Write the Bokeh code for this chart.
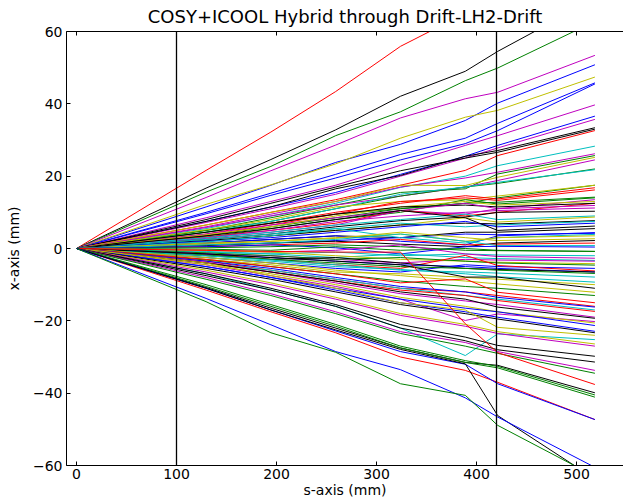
from bokeh.plotting import figure
from bokeh.models import Range1d, LinearAxis, Span, ColumnDataSource, CustomLabelingPolicy
from bokeh.embed import file_html
from bokeh.resources import INLINE

# ---------------- data ----------------
s_nodes = [0.0, 129.6, 194.4, 259.2, 324.0, 388.8, 421.2, 518.4]
region_edges = [100, 420]
s_ticks = [0, 100, 200, 300, 400, 500]
x_ticks = [-60, -40, -20, 0, 20, 40, 60]
x_tick_labels = ["\u221260", "\u221240", "\u221220", "0", "20", "40", "60"]

upper_tracks = [
    [0, 21.6, 32.2, 43.4, 55.9, 65.0, 70.0, 85.0],
    [0, 16.7, 24.6, 32.8, 42.1, 49.0, 54.5, 69.0],
    [0, 15.6, 22.7, 31.2, 37.8, 46.4, 49.9, 62.8],
    [0, 14.1, 21.5, 28.6, 36.1, 41.4, 43.2, 53.4],
    [0, 11.5, 17.5, 23.8, 28.8, 35.4, 40.2, 50.8],
    [0, 12.2, 17.6, 23.4, 30.5, 36.3, 38.2, 47.4],
    [0, 10.0, 15.3, 20.5, 26.0, 30.5, 34.6, 45.8],
    [0, 9.6, 14.7, 19.5, 24.5, 29.0, 32.6, 45.5],
    [0, 8.5, 13.0, 17.5, 23.0, 28.5, 31.2, 39.7],
    [0, 7.5, 11.5, 15.5, 20.5, 25.5, 28.5, 36.6],
    [0, 7.2, 11.0, 15.0, 20.0, 25.0, 27.8, 35.7],
    [0, 7.5, 11.5, 16.5, 20.2, 25.5, 27.1, 33.4],
    [0, 8.0, 12.5, 17.0, 21.5, 25.0, 26.6, 33.0],
    [0, 6.5, 10.0, 13.5, 17.5, 21.6, 25.7, 32.6],
    [0, 5.5, 9.0, 12.5, 16.9, 20.0, 22.9, 28.3],
    [0, 6.0, 9.5, 13.0, 17.0, 19.5, 21.1, 26.2],
    [0, 5.0, 8.5, 12.0, 15.5, 16.5, 20.6, 25.7],
    [0, 6.5, 10.0, 13.0, 17.5, 17.4, 19.7, 25.2],
    [0, 5.8, 9.0, 12.0, 14.5, 17.0, 18.8, 24.5],
    [0, 5.0, 7.5, 11.0, 14.5, 17.0, 18.0, 22.0],
    [0, 4.5, 7.5, 11.0, 15.0, 17.0, 18.3, 21.8],
    [0, 4.5, 7.0, 9.5, 11.0, 12.5, 14.0, 17.5],
    [0, 5.2, 8.0, 11.5, 13.0, 13.5, 14.5, 17.5],
    [0, 4.0, 7.0, 10.0, 12.5, 14.6, 13.7, 16.8],
    [0, 3.5, 6.5, 9.5, 13.0, 14.0, 13.3, 16.2],
    [0, 3.5, 6.0, 8.5, 11.0, 12.5, 12.8, 14.2],
    [0, 3.0, 5.5, 8.0, 10.0, 13.5, 12.3, 14.0],
    [0, 4.0, 6.5, 8.5, 10.5, 9.5, 11.0, 13.5],
    [0, 3.8, 6.0, 9.0, 11.5, 13.0, 12.0, 13.0],
    [0, 3.2, 5.0, 7.0, 10.5, 9.0, 10.0, 12.5],
    [0, 4.5, 7.0, 9.5, 11.5, 12.0, 11.5, 12.5],
    [0, 2.8, 4.5, 6.5, 10.5, 12.5, 11.0, 11.9],
    [0, 3.0, 5.0, 7.5, 9.0, 10.0, 10.5, 11.2],
    [0, 2.5, 4.0, 6.0, 7.7, 8.7, 10.0, 10.3],
]
upper_colors = "rkgmbybbmbmkkrcmgymgcgyrrggmyrkmmk"

middle_tracks = [
    [0, 3.0, 4.5, 6.5, 8.0, 9.5, 8.0, 9.0],
    [0, 2.0, 3.5, 5.0, 6.5, 8.5, 7.3, 8.7],
    [0, 2.2, 3.5, 5.0, 6.5, 7.0, 6.8, 7.7],
    [0, 2.5, 4.0, 5.5, 7.0, 6.0, 6.5, 7.5],
    [0, 2.0, 3.0, 4.5, 6.0, 7.5, 6.0, 7.0],
    [0, 3.5, 5.5, 8.0, 10.5, 8.5, 5.0, 6.2],
    [0, 1.5, 2.5, 3.5, 3.0, 4.5, 4.5, 5.5],
    [0, 1.5, 2.5, 3.5, 2.0, 1.0, 3.5, 4.4],
    [0, 1.0, 1.5, 2.2, 3.0, 4.0, 3.8, 4.2],
    [0, 1.8, 3.5, 5.5, 3.0, 1.5, 3.0, 3.9],
    [0, 1.5, 2.0, 3.0, 4.0, 2.0, 3.0, 3.5],
    [0, 1.2, 2.0, 2.8, 4.5, 3.0, 2.2, 2.7],
    [0, 0.8, 1.5, 2.0, 1.2, 0.5, 1.5, 2.2],
    [0, 0.5, 1.0, 1.5, 2.5, 1.0, 1.2, 1.5],
    [0, 1.0, 1.5, 2.5, 4.0, 2.0, 0.8, 0.8],
    [0, 0.5, 1.0, 0.2, -1.5, 0.5, 0.6, 0.4],
    [0, 0.2, 0.5, 1.0, 0.5, -0.5, -0.6, -0.8],
    [0, -0.2, -0.5, 0.5, -0.5, 0.0, -0.5, -0.8],
    [0, -1.0, -1.5, -1.0, -2.0, -1.5, -1.8, -2.0],
    [0, -0.5, -1.0, -0.5, 1.0, -1.5, -2.2, -2.7],
    [0, -0.8, -1.5, -2.5, -1.5, -2.5, -2.8, -3.3],
    [0, -1.5, -2.0, -3.0, -4.0, -3.0, -3.2, -3.5],
    [0, -0.5, -1.0, -2.0, -3.0, -3.5, -3.8, -4.2],
    [0, -1.2, -2.0, -3.0, -2.5, -3.5, -4.0, -4.6],
    [0, -2.5, -4.0, -5.5, -6.5, -4.5, -5.0, -5.5],
    [0, -1.5, -3.0, -4.5, -5.5, -1.9, -4.7, -6.2],
    [0, -1.5, -2.5, -3.5, -4.5, -5.0, -5.5, -6.5],
    [0, -2.0, -3.0, -2.5, -4.0, -5.5, -5.8, -6.5],
    [0, -1.8, -3.0, -4.0, -5.0, -5.5, -6.0, -6.9],
    [0, -2.0, -3.2, -4.5, -6.0, -6.5, -6.8, -7.9],
    [0, -2.5, -3.5, -5.0, -5.8, -7.0, -7.8, -9.3],
    [0, -3.0, -4.5, -6.5, -7.0, -8.0, -8.5, -10.0],
]
middle_colors = "cykcbkkbbcyykrcbggcmcmygbrbkgccy"

lower_tracks = [
    [0, -1.5, -2.5, -3.5, -4.5, -7.9, -7.9, -11.0],
    [0, -2.5, -4.0, -6.0, -7.5, -9.0, -9.8, -12.1],
    [0, -3.2, -5.0, -7.0, -9.0, -10.5, -11.0, -13.0],
    [0, -3.0, -5.0, -7.0, -9.5, -8.4, -12.1, -15.0],
    [0, -3.5, -6.0, -8.5, -11.0, -12.0, -13.0, -16.0],
    [0, -3.5, -5.5, -8.0, -10.5, -12.0, -13.5, -16.2],
    [0, -4.0, -6.0, -8.5, -11.0, -13.0, -14.0, -17.0],
    [0, -4.0, -6.5, -9.0, -11.5, -13.0, -14.4, -17.4],
    [0, -3.8, -6.5, -9.5, -12.5, -14.5, -15.5, -19.0],
    [0, -4.0, -6.5, -9.0, -12.0, -14.0, -16.2, -19.3],
    [0, -4.5, -7.5, -10.5, -14.0, -19.9, -18.1, -20.2],
    [0, -4.5, -7.0, -10.0, -13.5, -16.0, -17.5, -20.6],
    [0, -5.0, -8.0, -11.0, -14.0, -16.5, -17.5, -21.3],
    [0, -5.0, -8.0, -11.5, -15.0, -17.5, -19.0, -22.9],
    [0, -5.5, -8.5, -12.0, -15.5, -18.0, -19.5, -23.3],
    [0, -4.0, -7.5, -11.0, -15.0, -17.0, -21.8, -24.0],
    [0, -7.0, -11.5, -16.0, -22.0, -29.6, -23.6, -25.2],
    [0, -6.0, -9.5, -13.5, -18.0, -21.0, -23.0, -26.4],
    [0, -6.5, -10.0, -14.0, -18.5, -21.5, -23.5, -27.0],
    [0, -7.0, -11.0, -15.5, -21.0, -24.5, -26.8, -29.8],
    [0, -7.5, -11.5, -16.0, -22.0, -25.5, -28.0, -31.4],
    [0, -8.0, -12.5, -17.5, -23.0, -26.0, -28.5, -33.7],
    [0, -8.5, -13.0, -18.0, -23.5, -27.0, -29.0, -34.5],
    [0, -0.5, -0.8, -1.0, -1.0, -20.8, -28.8, -37.6],
    [0, -10.8, -16.5, -22.0, -27.5, -31.5, -32.3, -39.9],
    [0, -10.0, -15.5, -21.0, -27.0, -31.0, -32.6, -40.5],
    [0, -10.5, -16.0, -21.5, -27.5, -31.5, -33.0, -41.1],
    [0, -11.5, -17.5, -23.3, -30.0, -33.7, -37.0, -47.3],
    [0, -11.0, -17.0, -22.8, -28.5, -32.0, -37.4, -47.3],
    [0, -11.0, -17.0, -22.5, -27.9, -31.9, -46.2, -63.7],
    [0, -13.8, -21.1, -28.5, -33.5, -41.3, -46.6, -60.5],
    [0, -14.7, -23.3, -28.7, -37.4, -40.6, -48.9, -63.0],
]
lower_colors = "kygrrbcrmkmybbkycymkkmgrkggrbkbg"

# ---------------- style ----------------
COLOR_CODES = {"b": "#0000ff", "g": "#008000", "r": "#ff0000", "c": "#00bfbf",
               "m": "#bf00bf", "y": "#bfbf00", "k": "#000000"}
FONT = "DejaVu Sans"

tracks = upper_tracks + middle_tracks + lower_tracks
codes = upper_colors + middle_colors + lower_colors

p = figure(width=623, height=502, x_range=Range1d(-10, 547), y_range=Range1d(-60, 60),
           output_backend="svg", toolbar_location=None,
           min_border_left=66, min_border_right=0, min_border_top=31, min_border_bottom=37,
           title="COSY+ICOOL Hybrid through Drift-LH2-Drift")
p.outline_line_color = None
p.grid.visible = False
p.background_fill_color = "white"
p.border_fill_color = "white"

p.title.align = "center"
p.title.text_font = FONT
p.title.text_font_size = "18px"
p.title.text_font_style = "normal"
p.title.text_color = "black"
p.title.standoff = 2

src = ColumnDataSource(dict(xs=[s_nodes] * len(tracks), ys=tracks,
                            color=[COLOR_CODES[c] for c in codes]))
p.multi_line("xs", "ys", source=src, line_color="color", line_width=1)

for loc in region_edges:
    p.add_layout(Span(location=loc, dimension="height", line_color="black", line_width=1.3))

bottom_axis = p.below[0]
left_axis = p.left[0]
top_axis = LinearAxis()
p.add_layout(top_axis, "above")

for ax in (bottom_axis, left_axis, top_axis):
    ax.major_tick_in = 4
    ax.major_tick_out = 0
    ax.minor_tick_line_color = None
    ax.axis_line_color = "black"
    ax.major_tick_line_color = "black"
    ax.major_label_text_font = FONT
    ax.major_label_text_font_size = "14px"
    ax.major_label_text_color = "black"
    ax.axis_label_text_font = FONT
    ax.axis_label_text_font_size = "14px"
    ax.axis_label_text_font_style = "normal"
    ax.axis_label_text_color = "black"

bottom_axis.ticker = s_ticks
top_axis.ticker = s_ticks
top_axis.major_label_standoff = 0
top_axis.major_label_text_font_size = "1px"
top_axis.major_label_policy = CustomLabelingPolicy(
    code="const all = [...indices]; for (const i of all) { indices.unset(i) }")
left_axis.ticker = x_ticks
left_axis.major_label_overrides = {v: t for v, t in zip(x_ticks, x_tick_labels)}
bottom_axis.major_label_standoff = 3
left_axis.major_label_standoff = 4
bottom_axis.axis_label_standoff = 0
left_axis.axis_label_standoff = 8
bottom_axis.axis_label = "s-axis (mm)"
left_axis.axis_label = "x-axis (mm)"

open("out.html", "w").write(file_html(p, INLINE))
